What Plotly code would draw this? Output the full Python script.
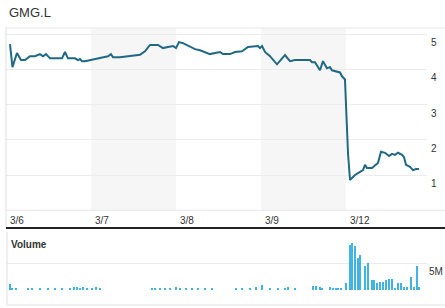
import plotly.graph_objects as go

# ---- data ----
ticker = "GMG.L"
day_labels = ["3/6", "3/7", "3/8", "3/9", "3/12"]
# time measured in trading days from the start of 3/6 (fractional = intraday)
price_time = [0.047, 0.076, 0.129, 0.176, 0.224, 0.282, 0.341, 0.4, 0.435, 0.471,
              0.518, 0.612, 0.659, 0.694, 0.729, 0.812, 0.847, 0.871, 0.894, 0.929,
              0.988, 1.047, 1.106, 1.165, 1.2, 1.235, 1.259, 1.341, 1.459, 1.576,
              1.635, 1.694, 1.788, 1.847, 1.906, 1.965, 2.0, 2.035, 2.082, 2.141,
              2.224, 2.282, 2.341, 2.4, 2.459, 2.518, 2.553, 2.635, 2.694, 2.776,
              2.847, 2.929, 2.965, 2.988, 3.012, 3.047, 3.106, 3.188, 3.247, 3.282,
              3.341, 3.4, 3.459, 3.576, 3.6, 3.635, 3.694, 3.729, 3.776, 3.812,
              3.835, 3.894, 3.929, 3.953, 3.988, 4.0, 4.024, 4.047, 4.106, 4.165,
              4.2, 4.224, 4.247, 4.306, 4.341, 4.376, 4.412, 4.459, 4.506, 4.541,
              4.576, 4.612, 4.659, 4.682, 4.706, 4.753, 4.788, 4.824, 4.859]
price = [4.71, 4.06, 4.46, 4.26, 4.26, 4.37, 4.37, 4.43, 4.37, 4.43,
         4.31, 4.31, 4.31, 4.49, 4.31, 4.31, 4.26, 4.29, 4.23, 4.23,
         4.26, 4.29, 4.31, 4.34, 4.37, 4.43, 4.34, 4.34, 4.37, 4.41,
         4.51, 4.69, 4.69, 4.60, 4.63, 4.66, 4.60, 4.77, 4.74, 4.66,
         4.57, 4.54, 4.49, 4.43, 4.46, 4.49, 4.43, 4.43, 4.49, 4.51,
         4.63, 4.66, 4.66, 4.60, 4.66, 4.49, 4.37, 4.14, 4.29, 4.40,
         4.23, 4.26, 4.26, 4.26, 4.20, 4.20, 3.97, 4.23, 4.03, 4.06,
         3.97, 3.94, 3.91, 3.80, 3.71, 3.00, 1.60, 0.86, 1.00, 1.09,
         1.14, 1.29, 1.20, 1.20, 1.26, 1.34, 1.66, 1.63, 1.54, 1.60,
         1.57, 1.63, 1.57, 1.51, 1.29, 1.23, 1.14, 1.17, 1.17]

vol_time = [0.047, 0.071, 0.118, 0.259, 0.306, 0.4, 0.494, 0.576, 0.659, 0.753,
            0.8, 0.835, 0.871, 0.906, 0.953, 1.012, 1.059, 1.106, 1.718, 1.753,
            1.812, 1.871, 1.929, 2.0, 2.047, 2.118, 2.188, 2.259, 2.341, 2.424,
            2.706, 2.776, 2.871, 2.941, 3.012, 3.106, 3.2, 3.282, 3.318, 3.4,
            3.612, 3.647, 3.694, 3.718, 3.812, 3.847, 3.882, 3.906, 3.941, 4.0,
            4.047, 4.071, 4.106, 4.141, 4.165, 4.224, 4.259, 4.306, 4.329, 4.365,
            4.4, 4.435, 4.471, 4.506, 4.541, 4.576, 4.612, 4.647, 4.682, 4.718,
            4.765, 4.8, 4.835, 4.859]
volume_m = [1.1, 0.37, 0.19, 0.37, 0.19, 0.19, 0.19, 0.19, 0.19, 0.37,
            0.56, 0.56, 0.37, 0.56, 0.37, 0.19, 0.56, 0.19, 0.37, 0.19,
            0.37, 0.19, 0.37, 0.56, 0.19, 0.37, 0.19, 0.37, 0.19, 0.19,
            0.37, 0.19, 0.37, 0.56, 0.93, 0.19, 0.37, 0.37, 0.56, 0.19,
            0.74, 0.74, 0.56, 0.37, 0.56, 0.37, 0.37, 0.37, 0.37, 1.3,
            8.3, 8.7, 8.1, 5.9, 6.5, 4.4, 5.0, 1.85, 1.85, 1.3,
            1.5, 1.5, 1.85, 2.0, 2.0, 0.37, 1.3, 1.3, 0.56, 0.56,
            2.4, 0.56, 4.4, 0.56]
volume = [v * 1e6 for v in volume_m]

price_ticks = [1, 2, 3, 4, 5]
vol_ticks = [5e6]
vol_tick_text = ["5M"]

# ---- layout helpers (pixel -> paper) ----
W, H = 445, 308
def px(x):
    return x / W
def py(y):
    return 1 - y / H

X_LEFT, X_RIGHT = 6, 427
DAY_W = 85.0
x_range = [0, (X_RIGHT - X_LEFT) / DAY_W]

MAIN_TOP, MAIN_BOT = 28, 210.25
UNIT = 35.25
main_range = [0, (MAIN_BOT - MAIN_TOP) / UNIT]

VOL_TOP, VOL_BOT = 233, 290
vol_range = [0, (VOL_BOT - VOL_TOP) / 27 * 5e6]

FONT = "Liberation Sans, Arial, sans-serif"
TXT = "#333333"
GRID = "#ececec"

fig = go.Figure()
fig.add_trace(go.Scatter(x=price_time, y=price, mode="lines",
                         line=dict(color="#1f6985", width=2),
                         xaxis="x", yaxis="y", hoverinfo="skip"))
fig.add_trace(go.Bar(x=vol_time, y=volume, width=0.022,
                     marker=dict(color="#41b3e4", line=dict(width=0)),
                     xaxis="x2", yaxis="y2", hoverinfo="skip"))

shapes = []
# alternating day bands
for i in range(len(day_labels)):
    if i % 2 == 1:
        shapes.append(dict(type="rect", xref="x", yref="paper", x0=i, x1=i + 1,
                           y0=py(MAIN_BOT), y1=py(MAIN_TOP),
                           fillcolor="#f6f6f6", line=dict(width=0), layer="below"))
# borders
shapes += [
    dict(type="line", xref="paper", yref="paper", x0=px(X_LEFT), x1=1,
         y0=py(MAIN_TOP), y1=py(MAIN_TOP), line=dict(color="#e6e6e6", width=1)),
    dict(type="line", xref="paper", yref="paper", x0=px(X_LEFT), x1=1,
         y0=py(MAIN_BOT), y1=py(MAIN_BOT), line=dict(color="#e6e6e6", width=1)),
    dict(type="line", xref="paper", yref="paper", x0=px(X_LEFT), x1=px(X_LEFT),
         y0=py(228), y1=py(MAIN_TOP), line=dict(color="#e0e0e0", width=1)),
    dict(type="line", xref="paper", yref="paper", x0=px(X_LEFT), x1=1,
         y0=py(228), y1=py(228), line=dict(color="#222222", width=2)),
    dict(type="line", xref="paper", yref="paper", x0=px(7), x1=px(7),
         y0=py(305), y1=py(232), line=dict(color="#e0e0e0", width=1)),
    dict(type="line", xref="paper", yref="paper", x0=px(7), x1=1,
         y0=py(305), y1=py(305), line=dict(color="#e0e0e0", width=1)),
]

annotations = [
    dict(text=ticker, xref="paper", yref="paper", x=px(7), y=py(12),
         xanchor="left", yanchor="middle", showarrow=False,
         font=dict(family=FONT, size=13, color=TXT)),
    dict(text="<b>Volume</b>", xref="paper", yref="paper", x=px(9), y=py(244),
         xanchor="left", yanchor="middle", showarrow=False,
         font=dict(family=FONT, size=10, color=TXT)),
]
for i, lab in enumerate(day_labels):
    annotations.append(dict(text=lab, xref="x", yref="paper", x=i, y=py(220),
                            xanchor="left", yanchor="middle", xshift=2,
                            showarrow=False,
                            font=dict(family=FONT, size=10, color=TXT)))
for v in price_ticks:
    annotations.append(dict(text=str(v), xref="paper", yref="y", x=px(429), y=v,
                            xanchor="left", yanchor="top", yshift=-1,
                            showarrow=False,
                            font=dict(family=FONT, size=10, color=TXT)))
for v, t in zip(vol_ticks, vol_tick_text):
    annotations.append(dict(text=t, xref="paper", yref="y2", x=px(427), y=v,
                            xanchor="left", yanchor="top", yshift=-1,
                            showarrow=False,
                            font=dict(family=FONT, size=10, color=TXT)))

fig.update_layout(
    width=W, height=H, margin=dict(l=0, r=0, t=0, b=0),
    paper_bgcolor="white", plot_bgcolor="rgba(0,0,0,0)",
    showlegend=False, bargap=0,
    shapes=shapes, annotations=annotations,
    xaxis=dict(domain=[px(X_LEFT), px(X_RIGHT)], range=x_range,
               showgrid=False, zeroline=False, showticklabels=False,
               ticks="", fixedrange=True),
    yaxis=dict(domain=[py(MAIN_BOT), py(MAIN_TOP)], range=main_range,
               tickvals=price_ticks, showticklabels=False, showgrid=True,
               gridcolor=GRID, gridwidth=1, zeroline=False, ticks=""),
    xaxis2=dict(domain=[px(X_LEFT), px(X_RIGHT)], range=x_range, anchor="y2",
                showgrid=False, zeroline=False, showticklabels=False, ticks=""),
    yaxis2=dict(domain=[py(VOL_BOT), py(VOL_TOP)], range=vol_range, anchor="x2",
                tickvals=[0] + vol_ticks, showticklabels=False, showgrid=True,
                gridcolor=GRID, gridwidth=1, zeroline=False, ticks=""),
)

fig.write_html("out.html")
